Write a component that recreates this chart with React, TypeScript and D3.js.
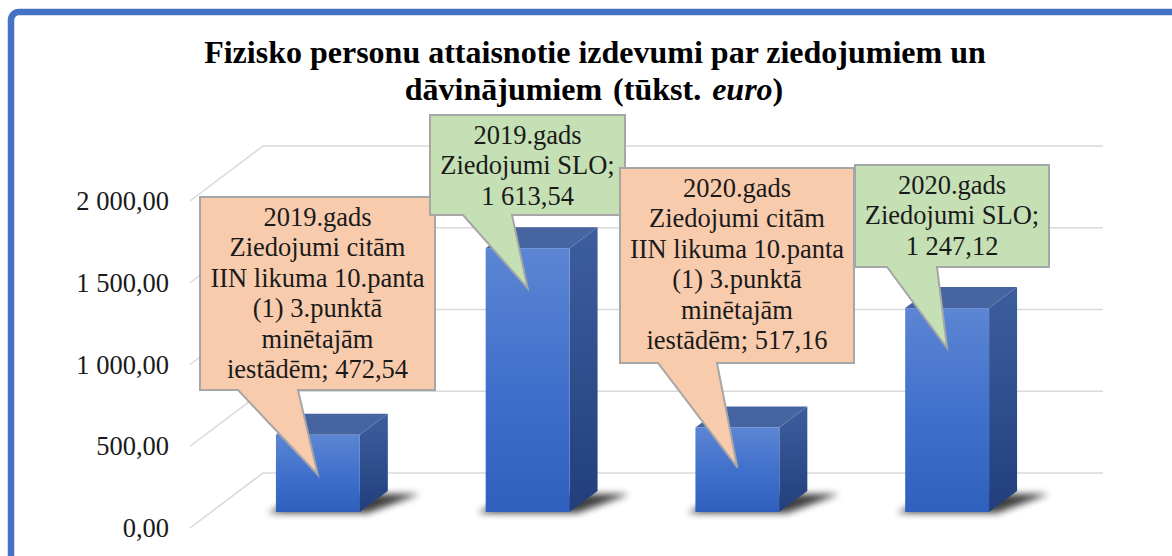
import React from "react";
import * as d3 from "d3";

// ---- data ----
const titleLine1 = "Fizisko personu attaisnotie izdevumi par ziedojumiem un";
const titleLine2 = ["dāvinājumiem (tūkst. ", "euro", ")"];
const categories = ["2019 citām", "2019 SLO", "2020 citām", "2020 SLO"];
const years = ["2019.gads", "2019.gads", "2020.gads", "2020.gads"];
const typeLines = [
  ["Ziedojumi citām", "IIN likuma 10.panta", "(1) 3.punktā", "minētajām", "iestādēm"],
  ["Ziedojumi SLO"],
  ["Ziedojumi citām", "IIN likuma 10.panta", "(1) 3.punktā", "minētajām", "iestādēm"],
  ["Ziedojumi SLO"],
];
const values = [472.54, 1613.54, 517.16, 1247.12];
const yTicks = [0, 500, 1000, 1500, 2000];

// ---- layout ----
const W = 1172;
const H = 556;
const frontX = 190;
const backX = 263;
const wallRight = 1103;
const frontFloorY = 528;
const backFloorY = 473;
const barBaseY = 512;
const barDX = 28;
const barDY = -21;
const calloutBoxes = [
  { x: 200, y: 197, w: 235, h: 193, b1: 38, b2: 98, fill: "#F8CBAD" },
  { x: 430, y: 115, w: 195, h: 100, b1: 33, b2: 82, fill: "#C5E0B4" },
  { x: 620, y: 168, w: 234, h: 195, b1: 38, b2: 97, fill: "#F8CBAD" },
  { x: 855, y: 165, w: 194, h: 102, b1: 32, b2: 82, fill: "#C5E0B4" },
];

const loc = d3.formatLocale({ decimal: ",", thousands: " ", grouping: [3], currency: ["", ""] });
const fmt = loc.format(",.2f");

const y = d3.scaleLinear().domain([0, 2000]).range([0, 327]);
const x = d3
  .scaleBand<string>()
  .domain(categories)
  .range([213, 1052])
  .paddingInner(0.6)
  .paddingOuter(0.3);

const serif = "'Liberation Serif', 'Times New Roman', serif";

export default function App() {
  const bw = x.bandwidth();
  return (
    <svg
      width={W}
      height={H}
      style={{ position: "absolute", left: 0, top: 0, display: "block", background: "#fff" }}
    >
      <defs>
        <linearGradient id="front" x1="0" y1="0" x2="0" y2="1">
          <stop offset="0" stopColor="#5C86D4" />
          <stop offset="0.55" stopColor="#3F6FCB" />
          <stop offset="1" stopColor="#2F60BE" />
        </linearGradient>
        <linearGradient id="side" x1="0" y1="0" x2="0" y2="1">
          <stop offset="0" stopColor="#3D5E9E" />
          <stop offset="1" stopColor="#223F7C" />
        </linearGradient>
        <filter id="blur" x="-50%" y="-200%" width="200%" height="500%">
          <feGaussianBlur stdDeviation="3.5" />
        </filter>
      </defs>
      <rect x={11} y={12} width={1300} height={700} rx={8} fill="#fff" stroke="#4472C4" strokeWidth={6.5} />

      {/* title */}
      <text x={595} y={63} textAnchor="middle" fontFamily={serif} fontWeight="bold" fontSize={32} fill="#000">
        {titleLine1}
      </text>
      <text x={594} y={100} textAnchor="middle" fontFamily={serif} fontWeight="bold" fontSize={32} fill="#000" wordSpacing={3}>
        {titleLine2[0]}
        <tspan fontStyle="italic">{titleLine2[1]}</tspan>
        {titleLine2[2]}
      </text>

      {/* gridlines */}
      {yTicks.map((t) => (
        <g key={t}>
          <polyline
            points={`${frontX},${frontFloorY - y(t)} ${backX},${backFloorY - y(t)} ${wallRight},${backFloorY - y(t)}`}
            fill="none"
            stroke="#D9D9D9"
            strokeWidth={1.5}
          />
          <text
            x={169}
            y={frontFloorY - y(t) + 9}
            textAnchor="end"
            fontFamily={serif}
            fontSize={26.5}
            fill="#1a1a1a"
          >
            {fmt(t)}
          </text>
        </g>
      ))}

      {/* shadows */}
      {categories.map((c) => {
        const x0 = x(c)!;
        const x1 = x0 + bw;
        return (
          <polygon
            key={"s" + c}
            points={`${x0 - 8},${barBaseY + 1} ${x1 + 8},${barBaseY + 1} ${x1 + barDX + 32},${barBaseY + barDY + 3} ${x0 + barDX},${barBaseY + barDY + 3}`}
            fill="#000"
            opacity={0.75}
            filter="url(#blur)"
          />
        );
      })}

      {/* bars */}
      {categories.map((c, i) => {
        const x0 = x(c)!;
        const x1 = x0 + bw;
        const top = barBaseY - y(values[i]);
        return (
          <g key={"b" + c}>
            <polygon
              points={`${x1},${barBaseY} ${x1 + barDX},${barBaseY + barDY} ${x1 + barDX},${top + barDY} ${x1},${top}`}
              fill="url(#side)"
            />
            <polygon
              points={`${x0},${top} ${x1},${top} ${x1 + barDX},${top + barDY} ${x0 + barDX},${top + barDY}`}
              fill="#46649F"
            />
            <rect x={x0} y={top} width={bw} height={barBaseY - top} fill="url(#front)" />
          </g>
        );
      })}

      {/* callouts */}
      {categories.map((c, i) => {
        const b = calloutBoxes[i];
        const top = barBaseY - y(values[i]);
        const tipX = x(c)! + bw / 2;
        const tipY = top + 40;
        const lines = [years[i], ...typeLines[i]];
        const lastIdx = lines.length - 1;
        if (typeLines[i].length > 1) {
          lines[lastIdx] = lines[lastIdx] + "; " + fmt(values[i]);
        } else {
          lines[lastIdx] = lines[lastIdx] + ";";
          lines.push(fmt(values[i]));
        }
        const path = `M${b.x},${b.y} H${b.x + b.w} V${b.y + b.h} H${b.x + b.b2} L${tipX},${tipY} L${b.x + b.b1},${b.y + b.h} H${b.x} Z`;
        return (
          <g key={"c" + c}>
            <path d={path} fill={b.fill} stroke="#A6A6A6" strokeWidth={2} strokeLinejoin="miter" />
            {lines.map((l, j) => (
              <text
                key={j}
                x={b.x + b.w / 2}
                y={b.y + 29 + j * 30.4}
                textAnchor="middle"
                fontFamily={serif}
                fontSize={26.5}
                fill="#1a1a1a"
              >
                {l}
              </text>
            ))}
          </g>
        );
      })}
    </svg>
  );
}
